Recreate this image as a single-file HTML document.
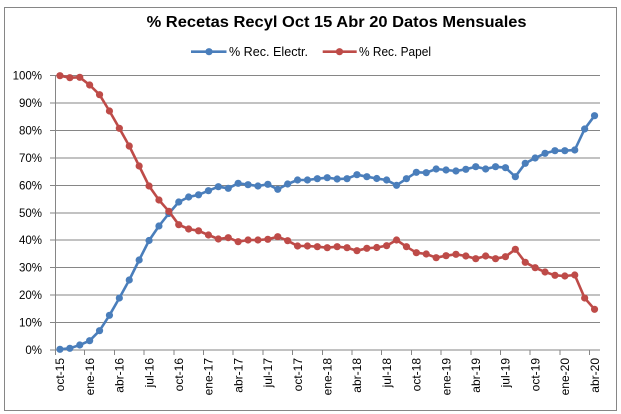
<!DOCTYPE html>
<html><head><meta charset="utf-8"><style>
html,body{margin:0;padding:0;background:#fff;}
svg{display:block;}
text{font-family:"Liberation Sans",Arial,sans-serif;fill:#000;}
</style></head><body>
<svg width="621" height="414" viewBox="0 0 621 414" xmlns="http://www.w3.org/2000/svg">
<defs>
<marker id="mb" markerUnits="userSpaceOnUse" markerWidth="10" markerHeight="10" refX="5" refY="5"><circle cx="5" cy="5" r="3.6" fill="#4A7EBB"/></marker>
<marker id="mr" markerUnits="userSpaceOnUse" markerWidth="10" markerHeight="10" refX="5" refY="5"><circle cx="5" cy="5" r="3.6" fill="#BE4B48"/></marker>
</defs>
<rect x="0" y="0" width="621" height="414" fill="#fff"/>
<rect x="4.5" y="7.5" width="612" height="403" fill="#fff" stroke="#868686" stroke-width="1"/>
<text x="336.6" y="27" font-size="16" font-weight="bold" text-anchor="middle" textLength="380" lengthAdjust="spacingAndGlyphs">% Recetas Recyl Oct 15 Abr 20 Datos Mensuales</text>
<path d="M191 51.7H226.5" stroke="#4A7EBB" stroke-width="2.6"/>
<circle cx="209" cy="51.7" r="3.6" fill="#4A7EBB"/>
<text x="229" y="56" font-size="12.5" textLength="79" lengthAdjust="spacingAndGlyphs">% Rec. Electr.</text>
<path d="M322.7 51.7H356.7" stroke="#BE4B48" stroke-width="2.6"/>
<circle cx="339.5" cy="51.7" r="3.6" fill="#BE4B48"/>
<text x="359" y="56" font-size="12.5" textLength="72" lengthAdjust="spacingAndGlyphs">% Rec. Papel</text>
<path fill="none" stroke="#868686" stroke-width="1" shape-rendering="crispEdges" d="M50 75.5H600M50 103H600M50 130.4H600M50 157.9H600M50 185.3H600M50 212.8H600M50 240.2H600M50 267.7H600M50 295.1H600M50 322.6H600M50 350H600M55.5 75.5V355M84.7 350V355M114.4 350V355M144.1 350V355M173.8 350V355M203.5 350V355M233.2 350V355M262.9 350V355M292.6 350V355M322.3 350V355M352 350V355M381.7 350V355M411.4 350V355M441.1 350V355M470.8 350V355M500.5 350V355M530.2 350V355M559.9 350V355M589.6 350V355"/>
<text font-size="11.5" text-anchor="end"><tspan x="42" y="79.5">100%</tspan><tspan x="42" y="107">90%</tspan><tspan x="42" y="134.4">80%</tspan><tspan x="42" y="161.9">70%</tspan><tspan x="42" y="189.3">60%</tspan><tspan x="42" y="216.8">50%</tspan><tspan x="42" y="244.2">40%</tspan><tspan x="42" y="271.7">30%</tspan><tspan x="42" y="299.1">20%</tspan><tspan x="42" y="326.6">10%</tspan><tspan x="42" y="354">0%</tspan></text>
<g transform="rotate(-90)"><text font-size="12" text-anchor="end"><tspan x="-358" y="64.2">oct-15</tspan><tspan x="-358" y="93.9">ene-16</tspan><tspan x="-358" y="123.6">abr-16</tspan><tspan x="-358" y="153.3">jul-16</tspan><tspan x="-358" y="183">oct-16</tspan><tspan x="-358" y="212.7">ene-17</tspan><tspan x="-358" y="242.4">abr-17</tspan><tspan x="-358" y="272.1">jul-17</tspan><tspan x="-358" y="301.8">oct-17</tspan><tspan x="-358" y="331.5">ene-18</tspan><tspan x="-358" y="361.2">abr-18</tspan><tspan x="-358" y="390.9">jul-18</tspan><tspan x="-358" y="420.6">oct-18</tspan><tspan x="-358" y="450.3">ene-19</tspan><tspan x="-358" y="480">abr-19</tspan><tspan x="-358" y="509.7">jul-19</tspan><tspan x="-358" y="539.4">oct-19</tspan><tspan x="-358" y="569.1">ene-20</tspan><tspan x="-358" y="598.8">abr-20</tspan></text></g>
<polyline fill="none" stroke="#4A7EBB" stroke-width="2.6" stroke-linejoin="round" marker-start="url(#mb)" marker-mid="url(#mb)" marker-end="url(#mb)" points="59.95,349.3 69.85,348.3 79.75,345 89.65,340.7 99.55,330.7 109.45,315.3 119.35,298 129.25,280 139.15,260 149.05,240.5 158.95,226 168.85,213.5 178.75,202 188.65,197 198.55,194.8 208.45,190.7 218.35,186.7 228.25,188.3 238.15,183.3 248.05,184.7 257.95,186 267.85,184.3 277.75,189.3 287.65,184 297.55,180 307.45,180 317.35,178.7 327.25,177.7 337.15,179 347.05,178.7 356.95,174.7 366.85,176.7 376.75,178.5 386.65,180 396.55,185.3 406.45,178.7 416.35,172.3 426.25,172.7 436.15,169 446.05,170 455.95,171 465.85,169.3 475.75,166.7 485.65,169 495.55,166.7 505.45,167.7 515.35,176.7 525.25,163.3 535.15,158 545.05,153.3 554.95,150.7 564.85,150.7 574.75,150 584.65,129 594.55,115.7"/>
<polyline fill="none" stroke="#BE4B48" stroke-width="2.6" stroke-linejoin="round" marker-start="url(#mr)" marker-mid="url(#mr)" marker-end="url(#mr)" points="59.95,75.7 69.85,77.7 79.75,77.3 89.65,85 99.55,94.7 109.45,111 119.35,128.3 129.25,146 139.15,166 149.05,186 158.95,200 168.85,211.3 178.75,224.7 188.65,229 198.55,230.8 208.45,235 218.35,239 228.25,237.7 238.15,241.7 248.05,240 257.95,240 267.85,239.3 277.75,236.7 287.65,240.7 297.55,246 307.45,246 317.35,246.7 327.25,247.7 337.15,246.7 347.05,247.7 356.95,250.7 366.85,248.3 376.75,247.5 386.65,245.7 396.55,240 406.45,246.7 416.35,252.7 426.25,254 436.15,257.7 446.05,255.7 455.95,254.3 465.85,256 475.75,258.7 485.65,256 495.55,258.7 505.45,256.7 515.35,249.3 525.25,262.3 535.15,267.7 545.05,272 554.95,275.3 564.85,276 574.75,275 584.65,298 594.55,309.3"/>
</svg>
</body></html>
